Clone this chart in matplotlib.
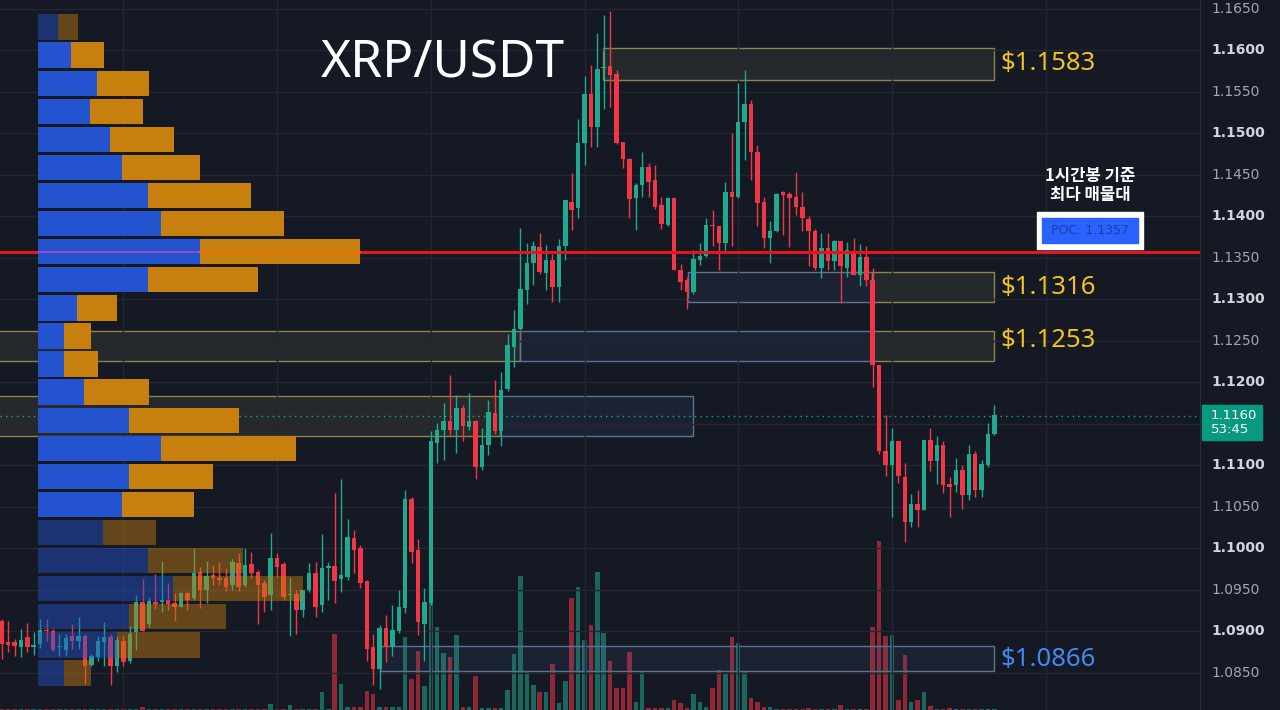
import numpy as np
import matplotlib.pyplot as plt
import matplotlib.transforms as mtransforms
from matplotlib.patches import Rectangle

# XRP/USDT 1h candles
opens = [1.0913, 1.0887, 1.0887, 1.0881, 1.0893, 1.0881, 1.0885, 1.0902, 1.0901, 1.0881,
         1.0878, 1.0894, 1.0889, 1.0894, 1.0860, 1.0869, 1.0887, 1.0893, 1.0859, 1.0889,
         1.0865, 1.0899, 1.0936, 1.0909, 1.0936, 1.0936, 1.0938, 1.0934, 1.0930, 1.0946,
         1.0940, 1.0972, 1.0950, 1.0968, 1.0965, 1.0964, 1.0956, 1.0983, 1.0956, 1.0981,
         1.0972, 1.0958, 1.0944, 1.0988, 1.0981, 1.0944, 1.0945, 1.0926, 1.0950, 1.0971,
         1.0932, 1.0976, 1.0979, 1.0963, 1.0966, 1.1013, 1.1001, 1.0961, 1.0881, 1.0855,
         1.0904, 1.0881, 1.0900, 1.0928, 1.1060, 1.0998, 1.0909, 1.0934, 1.1127, 1.1143,
         1.1153, 1.1143, 1.1169, 1.1146, 1.1153, 1.1098, 1.1125, 1.1163, 1.1141, 1.1192,
         1.1243, 1.1265, 1.1312, 1.1344, 1.1363, 1.1332, 1.1348, 1.1315, 1.1364, 1.1418,
         1.1410, 1.1488, 1.1548, 1.1508, 1.1579, 1.1581, 1.1572, 1.1490, 1.1469, 1.1422,
         1.1438, 1.1460, 1.1444, 1.1414, 1.1390, 1.1422, 1.1335, 1.1323, 1.1309, 1.1348,
         1.1352, 1.1390, 1.1388, 1.1368, 1.1429, 1.1424, 1.1514, 1.1536, 1.1478, 1.1417,
         1.1374, 1.1382, 1.1429, 1.1427, 1.1423, 1.1412, 1.1397, 1.1383, 1.1338, 1.1362,
         1.1346, 1.1370, 1.1338, 1.1359, 1.1329, 1.1351, 1.1324, 1.1221, 1.1117, 1.1101,
         1.1129, 1.1086, 1.1032, 1.1054, 1.1046, 1.1131, 1.1105, 1.1125, 1.1078, 1.1076,
         1.1094, 1.1064, 1.1114, 1.1070, 1.1101, 1.1138]
highs = [1.0915, 1.0913, 1.0891, 1.0903, 1.0910, 1.0899, 1.0915, 1.0915, 1.0903, 1.0897,
         1.0897, 1.0909, 1.0918, 1.0897, 1.0873, 1.0895, 1.0911, 1.0897, 1.0894, 1.0894,
         1.0907, 1.0944, 1.0963, 1.0942, 1.0969, 1.0985, 1.0958, 1.0946, 1.0948, 1.0948,
         1.1000, 1.0978, 1.0985, 1.0980, 1.0984, 1.0976, 1.0987, 1.0994, 1.1000, 1.0996,
         1.0974, 1.0962, 1.1019, 1.0995, 1.0984, 1.0966, 1.0950, 1.0950, 1.0982, 1.0984,
         1.1018, 1.0984, 1.1067, 1.1084, 1.1036, 1.1022, 1.1004, 1.0962, 1.0897, 1.0908,
         1.0920, 1.0932, 1.0950, 1.1070, 1.1062, 1.1012, 1.0952, 1.1141, 1.1151, 1.1175,
         1.1209, 1.1185, 1.1173, 1.1187, 1.1155, 1.1145, 1.1179, 1.1203, 1.1213, 1.1259,
         1.1287, 1.1386, 1.1368, 1.1370, 1.1380, 1.1366, 1.1355, 1.1373, 1.1420, 1.1452,
         1.1518, 1.1569, 1.1582, 1.1621, 1.1643, 1.1647, 1.1577, 1.1490, 1.1470, 1.1440,
         1.1478, 1.1464, 1.1462, 1.1424, 1.1424, 1.1423, 1.1343, 1.1327, 1.1360, 1.1368,
         1.1398, 1.1408, 1.1389, 1.1441, 1.1501, 1.1561, 1.1576, 1.1540, 1.1486, 1.1424,
         1.1394, 1.1428, 1.1431, 1.1430, 1.1453, 1.1430, 1.1400, 1.1385, 1.1380, 1.1380,
         1.1372, 1.1370, 1.1369, 1.1374, 1.1367, 1.1364, 1.1338, 1.1221, 1.1161, 1.1145,
         1.1129, 1.1103, 1.1066, 1.1070, 1.1131, 1.1145, 1.1135, 1.1129, 1.1086, 1.1109,
         1.1100, 1.1125, 1.1117, 1.1107, 1.1151, 1.1173]
lows = [1.0867, 1.0875, 1.0871, 1.0869, 1.0875, 1.0872, 1.0880, 1.0889, 1.0876, 1.0870,
        1.0870, 1.0879, 1.0879, 1.0837, 1.0859, 1.0865, 1.0859, 1.0836, 1.0851, 1.0858,
        1.0862, 1.0878, 1.0901, 1.0905, 1.0927, 1.0924, 1.0926, 1.0913, 1.0929, 1.0926,
        1.0938, 1.0928, 1.0934, 1.0956, 1.0956, 1.0949, 1.0950, 1.0949, 1.0953, 1.0964,
        1.0909, 1.0924, 1.0926, 1.0966, 1.0938, 1.0894, 1.0897, 1.0917, 1.0948, 1.0918,
        1.0924, 1.0938, 1.0934, 1.0948, 1.0962, 1.0970, 1.0952, 1.0865, 1.0835, 1.0831,
        1.0863, 1.0871, 1.0898, 1.0922, 1.0982, 1.0896, 1.0865, 1.0932, 1.1103, 1.1107,
        1.1137, 1.1115, 1.1129, 1.1143, 1.1084, 1.1095, 1.1113, 1.1138, 1.1123, 1.1190,
        1.1219, 1.1263, 1.1294, 1.1318, 1.1331, 1.1311, 1.1297, 1.1297, 1.1348, 1.1384,
        1.1398, 1.1462, 1.1484, 1.1484, 1.1530, 1.1532, 1.1487, 1.1458, 1.1398, 1.1384,
        1.1424, 1.1424, 1.1409, 1.1385, 1.1389, 1.1335, 1.1311, 1.1289, 1.1307, 1.1341,
        1.1351, 1.1364, 1.1335, 1.1356, 1.1364, 1.1422, 1.1468, 1.1444, 1.1388, 1.1362,
        1.1344, 1.1381, 1.1378, 1.1363, 1.1402, 1.1382, 1.1340, 1.1335, 1.1326, 1.1335,
        1.1335, 1.1296, 1.1327, 1.1329, 1.1316, 1.1316, 1.1195, 1.1114, 1.1087, 1.1038,
        1.1079, 1.1008, 1.1026, 1.1026, 1.1046, 1.1093, 1.1078, 1.1067, 1.1038, 1.1068,
        1.1048, 1.1058, 1.1062, 1.1062, 1.1098, 1.1137]
closes = [1.0885, 1.0884, 1.0882, 1.0890, 1.0881, 1.0884, 1.0902, 1.0901, 1.0878, 1.0882,
          1.0892, 1.0889, 1.0895, 1.0859, 1.0870, 1.0889, 1.0893, 1.0859, 1.0890, 1.0863,
          1.0897, 1.0936, 1.0901, 1.0937, 1.0933, 1.0938, 1.0933, 1.0929, 1.0946, 1.0938,
          1.0971, 1.0950, 1.0967, 1.0965, 1.0962, 1.0953, 1.0984, 1.0954, 1.0980, 1.0970,
          1.0956, 1.0942, 1.0988, 1.0978, 1.0942, 1.0945, 1.0926, 1.0950, 1.0971, 1.0930,
          1.0976, 1.0979, 1.0961, 1.0968, 1.1014, 1.0998, 1.0959, 1.0879, 1.0855, 1.0904,
          1.0881, 1.0902, 1.0930, 1.1060, 1.0996, 1.0912, 1.0935, 1.1129, 1.1143, 1.1153,
          1.1143, 1.1169, 1.1147, 1.1153, 1.1098, 1.1125, 1.1164, 1.1141, 1.1191, 1.1245,
          1.1265, 1.1313, 1.1344, 1.1365, 1.1333, 1.1348, 1.1315, 1.1364, 1.1420, 1.1408,
          1.1488, 1.1548, 1.1508, 1.1578, 1.1580, 1.1571, 1.1489, 1.1469, 1.1421, 1.1438,
          1.1460, 1.1442, 1.1412, 1.1391, 1.1422, 1.1335, 1.1321, 1.1309, 1.1349, 1.1352,
          1.1390, 1.1388, 1.1368, 1.1429, 1.1424, 1.1514, 1.1536, 1.1478, 1.1416, 1.1374,
          1.1382, 1.1427, 1.1426, 1.1422, 1.1412, 1.1398, 1.1382, 1.1338, 1.1362, 1.1346,
          1.1370, 1.1340, 1.1360, 1.1330, 1.1351, 1.1324, 1.1221, 1.1117, 1.1101, 1.1129,
          1.1087, 1.1032, 1.1054, 1.1046, 1.1131, 1.1105, 1.1125, 1.1076, 1.1074, 1.1094,
          1.1064, 1.1114, 1.1070, 1.1102, 1.1138, 1.1161]
volumes = [0.1] * 22 + [0.3] + [0.1] * 19 + [
    0.6, 0.1, 0.1, 0.5, 0.1, 0.1, 0.1, 0.1,
    1.8, 0.1, 7.6, 2.6, 0.3, 0.3, 0.3, 1.9, 1.6, 0.3,
    0.3, 0.3, 0.3, 7.3, 3.1, 5.9, 2.4, 10.7, 8.3, 5.7,
    5.3, 7.5, 0.3, 0.3, 3.4, 0.2, 0.2, 0.2, 0.2, 2.0,
    5.6, 13.4, 3.8, 2.5, 1.8, 1.8, 4.6, 0.7, 2.9, 11.2,
    12.3, 7.0, 8.5, 13.8, 7.7, 4.9, 2.2, 2.2, 5.8, 0.8,
    3.9, 0.2, 0.2, 0.2, 0.2, 1.0, 0.7, 0.2, 1.6, 0.8,
    0.3, 2.2, 4.0, 3.7, 7.3, 6.7, 3.8, 1.2, 0.8, 0.3,
    0.3, 0.1, 0.1, 0.1, 0.1, 0.1, 0.2, 0.1, 0.1, 0.1,
    0.1, 0.5, 0.1, 0.1, 0.1, 0.1, 8.3, 16.9, 7.4, 7.5,
    1.0, 5.5, 0.8, 1.0, 1.8, 0.4, 0.1, 0.1, 0.2, 0.1,
    0.1, 0.1, 0.1, 0.1, 0.1, 0.1]

# volume profile rows, top to bottom (buy / sell volume)
vp_top = 1.16452
vp_step = 0.003384
vp_buy = [2.0, 3.3, 5.9, 5.2, 7.2, 8.4, 11.0, 12.3, 16.2, 11.0, 3.9, 2.6,
          2.6, 4.6, 9.1, 12.3, 9.1, 8.4, 6.5, 11.0, 13.5, 9.1, 7.9, 2.6]
vp_sell = [2.0, 3.3, 5.2, 5.3, 6.4, 7.8, 10.3, 12.3, 16.0, 11.0, 4.0, 2.7,
           3.4, 6.5, 11.0, 13.5, 8.4, 7.2, 5.3, 9.5, 13.0, 9.7, 8.3, 2.7]
value_area_rows = (1, 17)
poc_price = 1.1357
last_price = 1.1160

# zones: (start candle, end candle, low, high, kind)
zones = [(93.9, 155.0, 1.1564, 1.1603, 'y'),
         (107.2, 135.9, 1.1297, 1.1333, 'b'), (135.9, 155.0, 1.1297, 1.1333, 'y'),
         (-1.0, 80.9, 1.1226, 1.1262, 'y'), (80.9, 136.1, 1.1226, 1.1262, 'b'),
         (136.1, 155.0, 1.1226, 1.1262, 'y'),
         (-1.0, 77.8, 1.1136, 1.1184, 'y'), (77.8, 108.0, 1.1136, 1.1184, 'b'),
         (59.1, 155.0, 1.0852, 1.0883, 'b')]
level_labels = [('$1.1583', 1.1584, '#f2c31b'), ('$1.1316', 1.1315, '#f2c31b'),
                ('$1.1253', 1.1251, '#f2c31b'), ('$1.0866', 1.0866, '#4189f2')]
price_ticks = [1.085 + 0.005 * k for k in range(17)]
day_lines = [19, 43, 67, 91, 115, 139, 163]

bg = '#151924'
grid_c = '#222633'
up_c = '#1fa98e'
dn_c = '#f23645'

fig = plt.figure(figsize=(12.8, 7.1), dpi=100)
fig.patch.set_facecolor(bg)
ax = fig.add_axes([0, 0, 1200 / 1280, 1])
ax.set_facecolor(bg)
xlim = (-0.265, 187.1)
ylim = (1.08054, 1.16608)

idx = np.arange(len(opens))
o = np.array(opens); h = np.array(highs); l = np.array(lows); c = np.array(closes)
cols = np.where(c >= o, up_c, dn_c)

# grid
ax.set_yticks(price_ticks)
ax.set_xticks(day_lines)
ax.grid(True, color=grid_c, lw=1, zorder=0)
ax.tick_params(length=0, labelleft=False, labelbottom=False)
for s in ['top', 'left', 'bottom']:
    ax.spines[s].set_visible(False)
ax.spines['right'].set_color('#2a2e39')

# volume bars along the bottom
trans = mtransforms.blended_transform_factory(ax.transData, ax.transAxes)
ax.bar(idx, np.array(volumes) / 71.0, width=0.7, bottom=0, color=cols,
       alpha=0.55, transform=trans, zorder=1)

# zones
for x0, x1, p0, p1, kind in zones:
    if kind == 'y':
        fc, ec = (0.75, 0.72, 0.45, 0.10), '#8c8448'
    else:
        fc, ec = (0.35, 0.50, 0.75, 0.10), '#5d7391'
    ax.add_patch(Rectangle((x0, p0), x1 - x0, p1 - p0, facecolor=fc,
                           edgecolor=ec, lw=1, zorder=1.5))

# candles
ax.vlines(idx, l, h, color=cols, lw=1, zorder=2)
body = np.maximum(np.abs(c - o), 0.00008)
ax.bar(idx, body, bottom=np.minimum(o, c), width=0.7, color=cols, zorder=2.5)

ax.axhline(last_price, color=up_c, lw=1, ls=(0, (1, 3)), zorder=2)
ax.axhline(poc_price, color='#e3171b', lw=2.2, zorder=3)

ax.set_xlim(xlim)
ax.set_ylim(ylim)

# price axis labels (the one under the last-price tag is hidden)
ytr = mtransforms.blended_transform_factory(ax.transAxes, ax.transData)
for p in price_ticks:
    if abs(p - last_price) < 0.0015:
        continue
    major = abs(round(p * 100) - p * 100) < 1e-6
    ax.text(1.0092, p, f'{p:.4f}', transform=ytr, clip_on=False, va='center',
            ha='left', fontsize=10, color='#d1d4dc' if major else '#a3a6af',
            fontweight='bold' if major else 'normal')

# last price tag
fig.add_artist(Rectangle((1202 / 1280, 1 - 440 / 710), 60 / 1280, 35 / 710,
                         transform=fig.transFigure, color='#089981'))
fig.text(1211 / 1280, 1 - 422.5 / 710, f'{last_price:.4f}\n53:45', color='white',
         fontsize=9.5, va='center', linespacing=1.05)

# texts
ax.text(0.369, 0.910, 'XRP/USDT', transform=ax.transAxes, fontsize=37,
        family='Noto Sans', color='white', ha='center', va='center', zorder=6)
for txt, p, col in level_labels:
    ax.text(155.9, p, txt, fontsize=18.5, family='Noto Sans', fontweight='bold',
            color=col, ha='left', va='center', zorder=6)

ax.text(170, 1.1437, '1시간봉 기준\n최다 매물대', fontsize=12, fontweight='bold',
        family=['Noto Sans CJK KR', 'DejaVu Sans'], color='white',
        ha='center', va='center', linespacing=1.05, zorder=6)
ax.add_patch(Rectangle((161.7, 1.13609), 16.5, 0.00445, color='white', zorder=5))
ax.add_patch(Rectangle((162.5, 1.13681), 14.9, 0.00301, color='#2962ff', zorder=5.5))
ax.text(170, 1.1383, 'POC: 1.1357', fontsize=9, color='#1d3f9c', ha='center',
        va='center', zorder=6)

# volume profile overlay
vp = fig.add_axes([0, 0, 1200 / 1280, 1])
vp.patch.set_alpha(0)
vp.axis('off')
vp.set_xlim(-3.8, 116.2)
vp.set_ylim(ylim)
for r, (b, s) in enumerate(zip(vp_buy, vp_sell)):
    yc = vp_top - vp_step * (r + 0.5)
    a = 1.0 if value_area_rows[0] <= r <= value_area_rows[1] else 0.45
    vp.barh(yc, b, height=vp_step * 0.9, left=0, color='#2453d0', alpha=a)
    vp.barh(yc, s, height=vp_step * 0.9, left=b, color='#c77f0e', alpha=a)
    if r == 8:
        vp.plot([0, b], [poc_price, poc_price], color='#a846c8', lw=1.2)
        vp.plot([b, b + s], [poc_price, poc_price], color='#ff6a00', lw=1.2)

fig.savefig('out.png', dpi=100, facecolor=bg)
